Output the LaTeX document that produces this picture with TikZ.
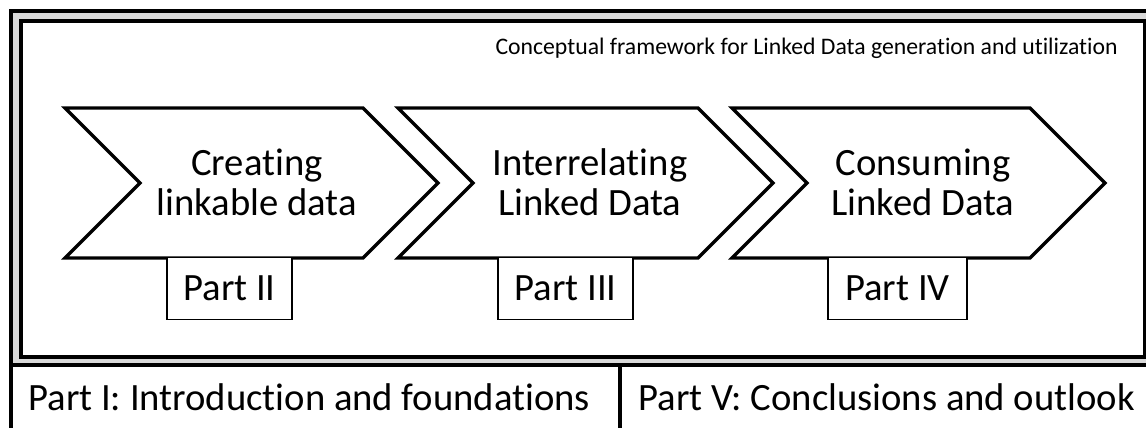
\documentclass[tikz,border=0pt]{standalone}
\usepackage{fontspec}
\setmainfont{Carlito}[Ligatures={NoCommon}]
\usepackage{tikz}

\begin{document}
\begin{tikzpicture}[x=0.02cm, y=-0.02cm,
  frameline/.style={line width=0.065cm},
  chevron/.style={draw, line width=0.065cm, fill=white},
  steptext/.style={align=center, inner sep=0pt, font=\fontsize{22pt}{22.8pt}\selectfont},
  partbox/.style={draw, line width=0.6pt, fill=white, anchor=north, inner sep=0pt,
    minimum width=#1, minimum height=1.24cm, font=\fontsize{22pt}{24pt}\selectfont},
  plaintext/.style={inner sep=0pt, font=\fontsize{22pt}{24pt}\selectfont}]
\useasboundingbox (0,0) rectangle (1146,427);
\clip (0,0) rectangle (1146,427);

% double frame round the framework
\filldraw[frameline, fill=black!15] (11,11) rectangle (1170,365);
\filldraw[frameline, fill=white] (21,21) rectangle (1144.5,357);
% footer cells
\draw[frameline] (11,365) -- (11,440);
\draw[frameline] (620,365) -- (620,440);

\node[anchor=base east, inner sep=0pt, font=\fontsize{13.5pt}{15pt}\selectfont] (title) at (1118,54)
  {Conceptual framework for Linked Data generation and utilization};

% the three steps
\draw[chevron] (65,108) -- ++(298,0) -- ++(75,75) -- ++(-75,75) -- ++(-298,0) -- ++(75,-75) -- cycle;
\draw[chevron] (398,108) -- ++(300,0) -- ++(75,75) -- ++(-75,75) -- ++(-300,0) -- ++(75,-75) -- cycle;
\draw[chevron] (732,108) -- ++(298,0) -- ++(75,75) -- ++(-75,75) -- ++(-298,0) -- ++(75,-75) -- cycle;

\node[steptext] (create) at (257,182) {Creating\\linkable data};
\node[steptext] (interrelate) at (590,182) {Interrelating\\Linked Data};
\node[steptext] (consume) at (923,182) {Consuming\\Linked Data};

\node[partbox=2.5cm] (part2) at (229.5,257) {Part II};
\node[partbox=2.7cm] (part3) at (565.5,257) {Part III};
\node[partbox=2.78cm] (part4) at (897.5,257) {Part IV};

\node[plaintext, anchor=base west] (part1) at (28,410) {Part I: Introduction and foundations};
\node[plaintext, anchor=base west] (part5) at (638,410) {Part V: Conclusions and outlook};
\end{tikzpicture}
\end{document}
